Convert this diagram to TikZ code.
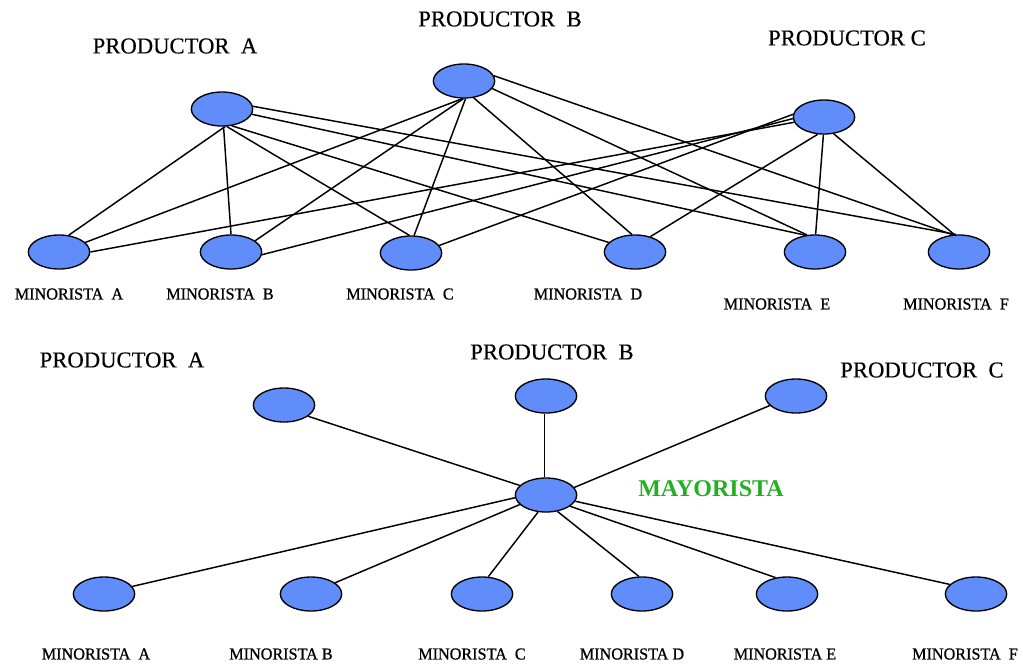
\documentclass[tikz,border=0pt]{standalone}
\usepackage{fontspec}
\setmainfont{Liberation Serif}
\newfontfamily\prodfont[FakeBold=0.4]{Liberation Serif}
\newfontfamily\minofont[FakeBold=0.8,FakeStretch=0.97]{Liberation Serif}
\usetikzlibrary{shapes.geometric}
\definecolor{nodeblue}{RGB}{96,141,250}
\definecolor{maygreen}{RGB}{34,176,34}
\begin{document}
\begin{tikzpicture}[x=0.75pt,y=-0.75pt,
  dot/.style={ellipse,draw=black,line width=1pt,fill=nodeblue,minimum width=46pt,minimum height=25.5pt,inner sep=0pt},
  prod/.style={font=\prodfont\fontsize{17}{19}\selectfont,inner sep=0pt},
  mino/.style={font=\minofont\fontsize{12.5}{14}\selectfont,inner sep=0pt},
  link/.style={draw=black,line width=1.1pt}]
\useasboundingbox (0,0) rectangle (1023,664);
% ---------- top network ----------
\node[dot] (pa) at (222,109) {};
\node[dot] (pb) at (464,81) {};
\node[dot] (pc) at (824,117) {};
\node[dot] (ma) at (59,252) {};
\node[dot] (mb) at (231,252) {};
\node[dot] (mc) at (411,253) {};
\node[dot] (md) at (635,252) {};
\node[dot] (me) at (815,252) {};
\node[dot] (mf) at (959,252) {};
\node[prod] (tpa) at (175,46) {PRODUCTOR\ \ A};
\node[prod] (tpb) at (500,19) {PRODUCTOR\ \ B};
\node[prod] (tpc) at (847,38) {PRODUCTOR C};
\node[mino] (tma) at (69,294) {MINORISTA\ \ A};
\node[mino] (tmb) at (220,294) {MINORISTA\ \ B};
\node[mino] (tmc) at (400,294) {MINORISTA\ \ C};
\node[mino] (tmd) at (588,294) {MINORISTA\ \ D};
\node[mino] (tme) at (777,304) {MINORISTA\ \ E};
\node[mino] (tmf) at (956,304) {MINORISTA\ \ F};
% producer A
\draw[link] (pa.-80) -- (ma.60);
\draw[link] (pa.-85) -- (mb.north);
\draw[link] (pa.-75) -- (mc.95);
\draw[link] (pa.-60) -- (md.160);
\draw[link] (pa.-10) -- (me.120);
\draw[link] (pa.5) -- (mf.100);
% producer B
\draw[link] (pb.-95) -- (ma.20);
\draw[link] (pb.-92) -- (mb.25);
\draw[link] (pb.-85) -- (mc.80);
\draw[link] (pb.-60) -- (md.100);
\draw[link] (pb.-15) -- (me.115);
\draw[link] (pb.10) -- (mf.110);
% producer C
\draw[link] (pc.190) -- (ma.0);
\draw[link] (pc.183) -- (mb.-5);
\draw[link] (pc.175) -- (mc.15);
\draw[link] (pc.-110) -- (md.45);
\draw[link] (pc.-92) -- (me.88);
\draw[link] (pc.-60) -- (mf.105);
% ---------- bottom network ----------
\node[dot] (bpa) at (284,405) {};
\node[dot] (bpb) at (546,396) {};
\node[dot] (bpc) at (796,396) {};
\node[dot] (may) at (546,495) {};
\node[dot] (bma) at (104,594) {};
\node[dot] (bmb) at (311,594) {};
\node[dot] (bmc) at (482,594) {};
\node[dot] (bmd) at (642,594) {};
\node[dot] (bme) at (787,594) {};
\node[dot] (bmf) at (976,594) {};
\node[prod] (lpa) at (122,360) {PRODUCTOR\ \ A};
\node[prod] (lpb) at (552,352) {PRODUCTOR\ \ B};
\node[prod] (lpc) at (922,370) {PRODUCTOR\ \ C};
\node[font=\fontsize{18}{20}\selectfont\bfseries,text=maygreen,inner sep=0pt] (lmay) at (711,489) {MAYORISTA};
\node[mino] (lma) at (96,654) {MINORISTA\ \ A};
\node[mino] (lmb) at (281,654) {MINORISTA B};
\node[mino] (lmc) at (472,654) {MINORISTA\ \ C};
\node[mino] (lmd) at (632,654) {MINORISTA D};
\node[mino] (lme) at (785,654) {MINORISTA E};
\node[mino] (lmf) at (965,654) {MINORISTA\ \ F};
\draw[link] (may.160) -- (bpa.-25);
\draw[link] (may.95) -- (bpb.-95);
\draw[link] (may.15) -- (bpc.200);
\draw[link] (may.185) -- (bma.15);
\draw[link] (may.200) -- (bmb.25);
\draw[link] (may.-115) -- (bmc.70);
\draw[link] (may.-55) -- (bmd.100);
\draw[link] (may.-25) -- (bme.125);
\draw[link] (may.-12) -- (bmf.160);
\end{tikzpicture}
\end{document}
